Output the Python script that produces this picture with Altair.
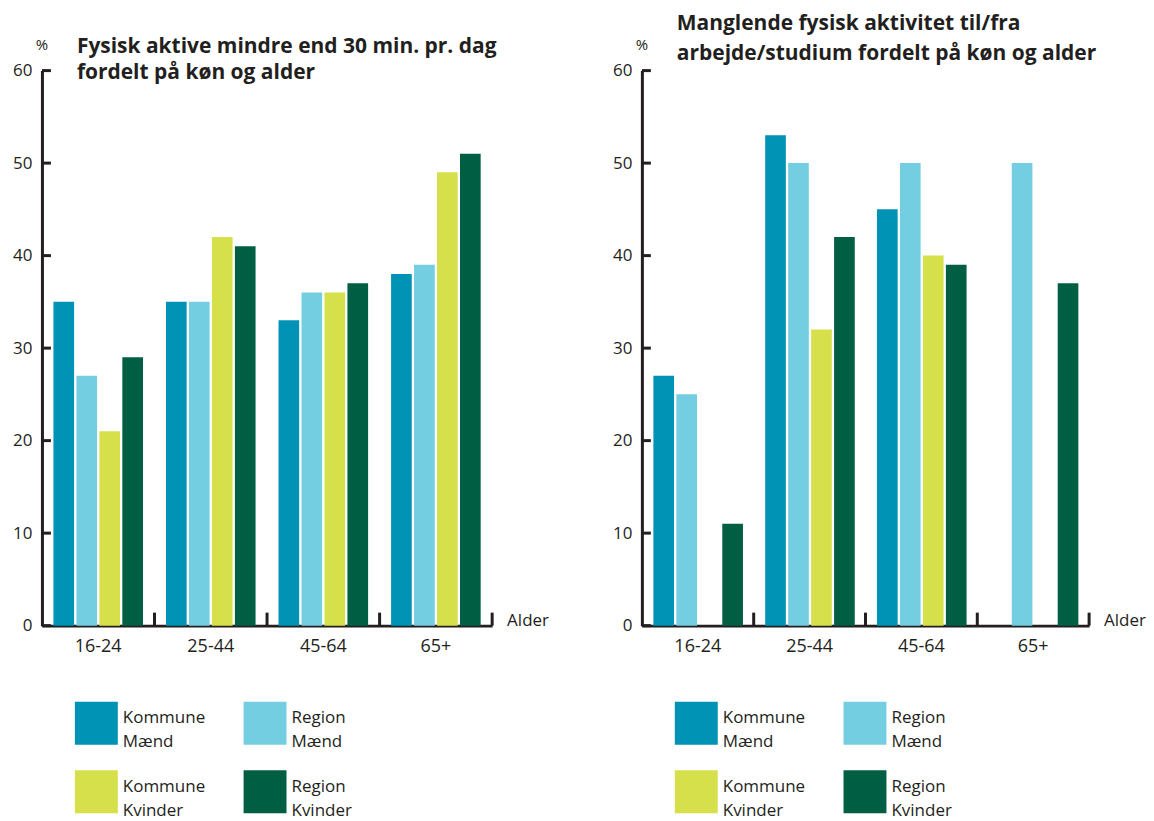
import altair as alt
import pandas as pd

ages = ["16-24", "25-44", "45-64", "65+"]
series = ["Kommune Mænd", "Region Mænd", "Kommune Kvinder", "Region Kvinder"]
colors = ["#0093b5", "#74cee2", "#d5e04b", "#005f43"]

left_kommune_maend = [35, 35, 33, 38]
left_region_maend = [27, 35, 36, 39]
left_kommune_kvinder = [21, 42, 36, 49]
left_region_kvinder = [29, 41, 37, 51]

right_kommune_maend = [27, 53, 45, None]
right_region_maend = [25, 50, 50, 50]
right_kommune_kvinder = [None, 32, 40, None]
right_region_kvinder = [11, 42, 39, 37]

y_ticks = [0, 10, 20, 30, 40, 50, 60]
x_title = "Alder"
y_unit = "%"
left_title = ["Fysisk aktive mindre end 30 min. pr. dag", "fordelt på køn og alder"]
right_title = ["Manglende fysisk aktivitet til/fra", "arbejde/studium fordelt på køn og alder"]

INK = "#231f20"
FONT = "Open Sans"
H = 556

# legend order (grid is filled column by column)
legend_order = [series[0], series[2], series[1], series[3]]
legend_colors = [colors[0], colors[2], colors[1], colors[3]]


def make_df(cols):
    rows = []
    for s, vals in zip(series, cols):
        for a, v in zip(ages, vals):
            if v is not None:
                rows.append({"Alder": a, "Serie": s, "Procent": v})
    return pd.DataFrame(rows)


def panel(cols, title_lines, title_y, title_lh, W):
    df = make_df(cols)
    xscale = alt.Scale(domain=ages, paddingInner=0, paddingOuter=0)
    yscale = alt.Scale(domain=[0, 60], nice=False)
    xaxis = alt.Axis(title=None, labelAngle=0, ticks=False, domain=True,
                     domainWidth=3, domainColor=INK, labelPadding=12,
                     labelFontSize=18, labelColor=INK, labelFont=FONT, grid=False)
    yaxis = alt.Axis(title=None, values=y_ticks, ticks=False, grid=False,
                     domain=True, domainWidth=3, domainColor=INK,
                     labelPadding=10, labelFontSize=17, labelColor=INK, labelFont=FONT)

    bars = alt.Chart(df).mark_bar().encode(
        x=alt.X("Alder:N", sort=ages, scale=xscale, axis=xaxis),
        xOffset=alt.XOffset("Serie:N", sort=series,
                            scale=alt.Scale(domain=series, paddingInner=0.1, paddingOuter=0.5)),
        y=alt.Y("Procent:Q", scale=yscale, axis=yaxis),
        color=alt.Color("Serie:N",
                        scale=alt.Scale(domain=legend_order, range=legend_colors),
                        legend=alt.Legend(title=None, orient="none", legendX=33, legendY=632,
                                          columns=2, symbolType="square", symbolSize=1849,
                                          symbolStrokeWidth=0, labelFontSize=17,
                                          labelFont=FONT, labelColor=INK, labelOffset=5,
                                          labelBaseline="alphabetic",
                                          labelLimit=300, rowPadding=20, columnPadding=38,
                                          labelExpr="split(datum.label, ' ')")),
    )

    bdf = pd.DataFrame({"Alder": ages})
    bounds = alt.Chart(bdf).mark_rule(color=INK, strokeWidth=3).encode(
        x=alt.X("Alder:N", sort=ages, scale=xscale, bandPosition=1, axis=xaxis),
        y=alt.value(H),
        y2=alt.value(H - 13),
    )

    tdf = pd.DataFrame({"Procent": y_ticks})
    yt = alt.Chart(tdf).mark_rule(color=INK, strokeWidth=3).encode(
        y=alt.Y("Procent:Q", scale=yscale, axis=yaxis),
        x=alt.value(0),
        x2=alt.value(9),
    )

    alder = alt.Chart(pd.DataFrame({"t": [x_title]})).mark_text(
        align="left", baseline="middle", fontSize=17, font=FONT, color=INK
    ).encode(text="t:N", x=alt.value(W + 15), y=alt.value(H - 5))

    pct = alt.Chart(pd.DataFrame({"t": [y_unit]})).mark_text(
        align="center", baseline="middle", fontSize=15, font=FONT, color=INK
    ).encode(text="t:N", x=alt.value(0), y=alt.value(-26))

    ttl = alt.Chart(pd.DataFrame({"t": ["\n".join(title_lines)]})).mark_text(
        align="left", baseline="alphabetic", fontSize=21, font=FONT, fontWeight="bold",
        color=INK, lineBreak="\n", lineHeight=title_lh
    ).encode(text="t:N", x=alt.value(35), y=alt.value(title_y))

    return alt.layer(bars, bounds, yt, alder, pct, ttl).properties(width=W, height=H)


left = panel([left_kommune_maend, left_region_maend, left_kommune_kvinder, left_region_kvinder],
             left_title, -18, 26, 451)
right = panel([right_kommune_maend, right_region_maend, right_kommune_kvinder, right_region_kvinder],
              right_title, -41, 30, 448)

chart = alt.hconcat(left, right, spacing=63).resolve_legend(color="independent").properties(
    padding={"left": 4, "top": 4, "right": 0, "bottom": 0}
).configure(font=FONT, style={"guide-label": {"lineHeight": 24}}).configure_view(stroke=None)

chart.save("out.html", embed_options={"renderer": "svg", "actions": False})
